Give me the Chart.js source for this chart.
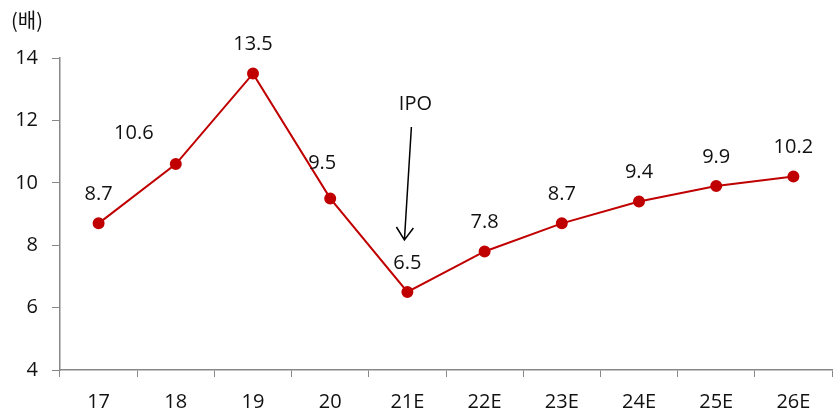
<!DOCTYPE html>
<html>
<head>
<meta charset="utf-8">
<script src="https://cdn.jsdelivr.net/npm/chart.js@4.4.1/dist/chart.umd.min.js"></script>
<style>
    body { margin: 0; background: #fff; }
    .wrap { width: 834px; height: 413px; position: relative; }
</style>
</head>
<body>
<div class="wrap"><canvas id="perChart"></canvas></div>
<script>
const years = ['17', '18', '19', '20', '21E', '22E', '23E', '24E', '25E', '26E'];
const perValues = [8.7, 10.6, 13.5, 9.5, 6.5, 7.8, 8.7, 9.4, 9.9, 10.2];
const yTicks = [4, 6, 8, 10, 12, 14];
const unitLabel = '(배)';
const noteLabel = 'IPO';
const noteIndex = 4;

const FONT = '"Open Sans", "Noto Sans CJK KR", sans-serif';
const KR_FONT = '"Noto Sans CJK KR", sans-serif';

// label nudges so the numbers don't sit on the line
const labelShift = { 1: [-42, -2], 3: [-8, -6] };

// value labels above points, unit text and the IPO arrow
const decorations = {
    id: 'decorations',
    afterDatasetsDraw(chart) {
        const ctx = chart.ctx;
        const meta = chart.getDatasetMeta(0);
        ctx.save();
        ctx.fillStyle = '#111';
        ctx.font = '20px ' + FONT;
        ctx.textAlign = 'center';
        ctx.textBaseline = 'middle';
        meta.data.forEach((pt, i) => {
            const s = labelShift[i] || [0, 0];
            ctx.fillText(perValues[i].toFixed(1), pt.x + s[0], pt.y - 29 + s[1]);
        });

        ctx.font = '20px ' + KR_FONT;
        ctx.textAlign = 'left';
        ctx.fillText(unitLabel, 11, 20);

        const p = meta.data[noteIndex];
        ctx.font = '20px ' + FONT;
        ctx.textAlign = 'center';
        ctx.fillText(noteLabel, p.x + 8, p.y - 188);
        ctx.strokeStyle = '#000';
        ctx.lineWidth = 1.5;
        const x1 = p.x + 4, y1 = p.y - 165;
        const x2 = p.x - 3, y2 = p.y - 52;
        ctx.beginPath();
        ctx.moveTo(x1, y1);
        ctx.lineTo(x2, y2);
        ctx.moveTo(x2 - 8, y2 - 13);
        ctx.lineTo(x2, y2);
        ctx.lineTo(x2 + 9, y2 - 12);
        ctx.stroke();
        ctx.restore();
    }
};

new Chart(document.getElementById('perChart'), {
    type: 'line',
    data: {
        labels: years,
        datasets: [{
            data: perValues,
            borderColor: '#c00000',
            backgroundColor: '#c00000',
            borderWidth: 2,
            pointRadius: 5,
            pointHoverRadius: 5,
            tension: 0
        }]
    },
    options: {
        responsive: true,
        maintainAspectRatio: false,
        animation: false,
        layout: { autoPadding: false, padding: { top: 58, right: 2, left: 0, bottom: 0 } },
        plugins: { legend: { display: false }, tooltip: { enabled: false } },
        scales: {
            x: {
                offset: true,
                grid: { offset: true, drawOnChartArea: false, tickLength: 7, color: '#888' },
                border: { color: '#888', width: 1.5 },
                ticks: { color: '#111', font: { family: FONT, size: 20 }, padding: 13 },
                afterFit(scale) { scale.height = 43; }
            },
            y: {
                min: 4,
                max: 14,
                afterBuildTicks(scale) { scale.ticks = yTicks.map(v => ({ value: v })); },
                grid: { drawOnChartArea: false, tickLength: 8, color: '#888' },
                border: { color: '#888', width: 1.5 },
                ticks: { color: '#111', font: { family: FONT, size: 20 }, padding: 14 },
                afterFit(scale) { scale.width = 60; }
            }
        }
    },
    plugins: [decorations]
});
</script>
</body>
</html>
